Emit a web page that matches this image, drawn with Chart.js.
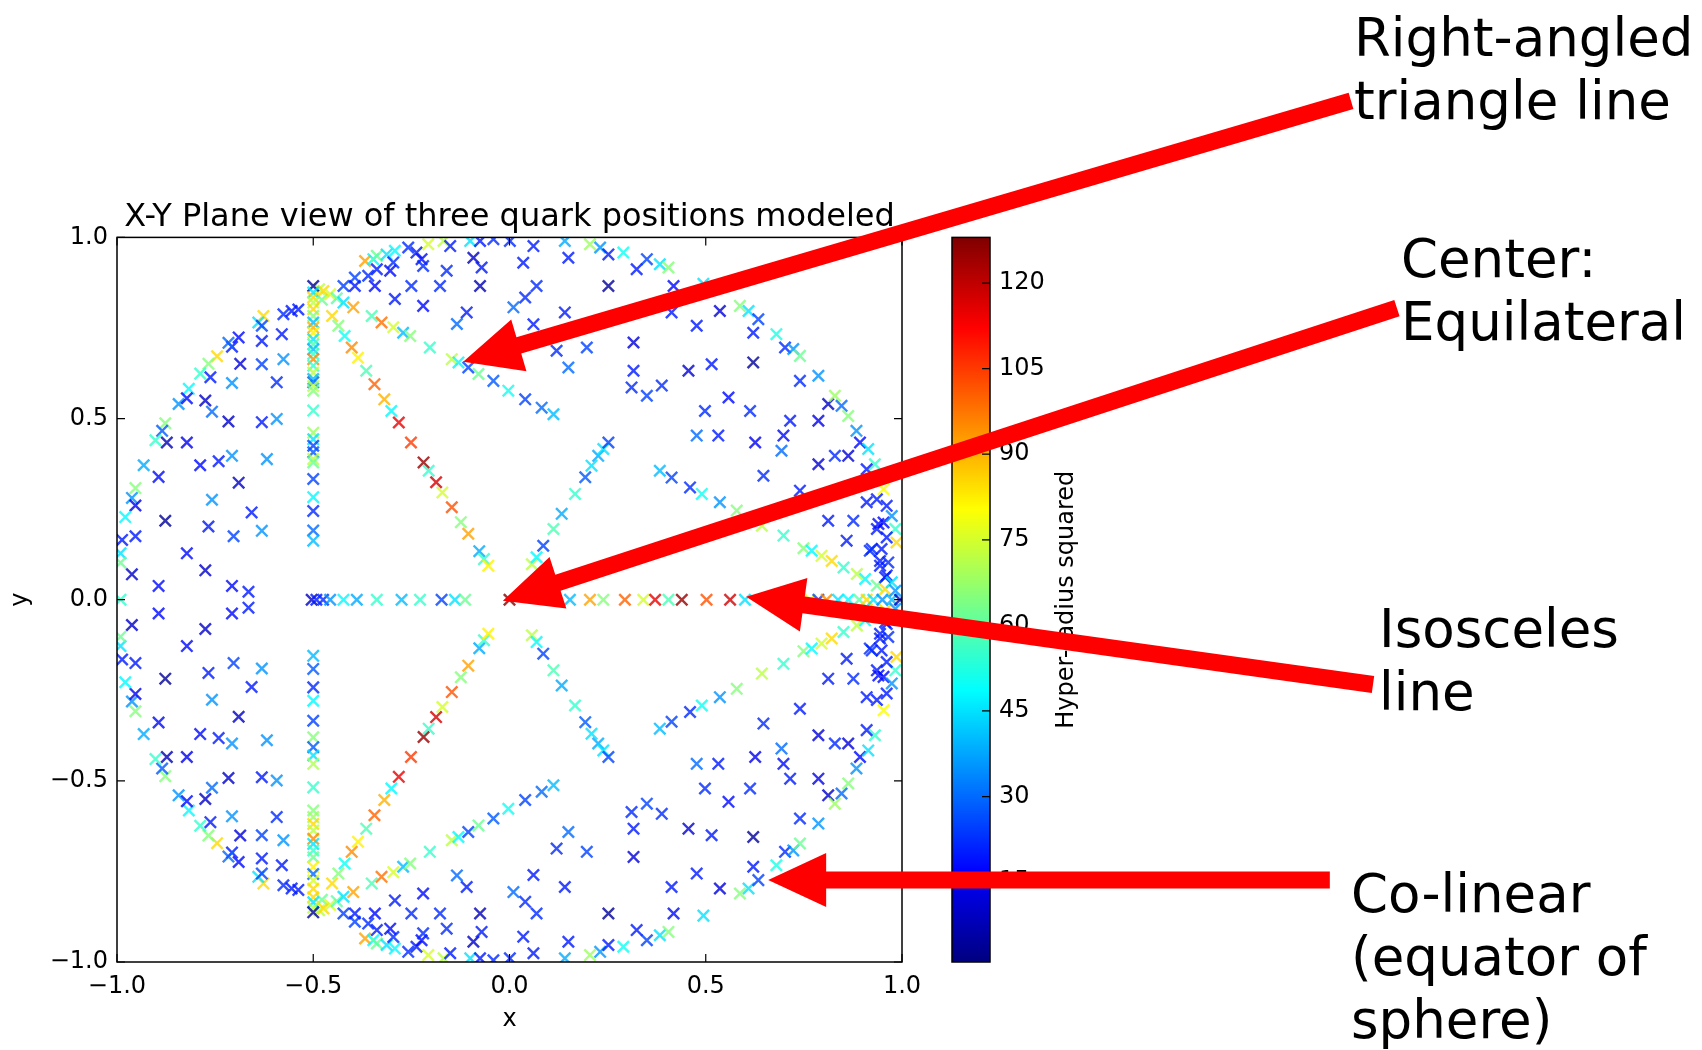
<!DOCTYPE html>
<html lang="en">
<head>
  <meta charset="UTF-8">
  <title>X-Y Plane view of three quark positions modeled</title>
  <script src="https://cdn.jsdelivr.net/npm/chart.js"></script>
  <style>
    html, body { margin: 0; padding: 0; background: #fff; }
    canvas { display: block; }
  </style>
</head>
<body>
  <canvas id="quarkChart" width="1702" height="1050"></canvas>

  <script>
    // every point is [x, y, hyper-radius squared]

    // scattered configurations, upper half (y > 0)
    const scatterUpper = [
      [-0.745,0.672,85],[-0.767,0.651,65],[-0.788,0.624,55],[-0.762,0.614,20],[-0.817,0.582,48],[-0.843,0.540,35],
      [-0.822,0.556,18],[-0.775,0.550,10],[-0.758,0.519,30],[-0.716,0.492,10],[-0.707,0.598,35],[-0.877,0.487,65],
      [-0.885,0.466,28],[-0.902,0.440,55],[-0.873,0.434,8],[-0.822,0.434,15],[-0.932,0.371,38],[-0.894,0.339,18],
      [-0.788,0.371,18],[-0.741,0.382,20],[-0.707,0.397,35],[-0.690,0.323,10],[-0.953,0.308,65],[-0.962,0.281,35],
      [-0.953,0.260,15],[-0.979,0.228,48],[-0.758,0.276,35],[-0.877,0.218,4],[-0.767,0.202,20],[-0.703,0.175,25],
      [-0.987,0.165,20],[-0.953,0.175,20],[-0.991,0.128,45],[-0.991,0.102,62],[-0.962,0.070,10],[-0.822,0.128,18],
      [-0.775,0.081,10],[-0.894,0.038,18],[-0.707,0.038,18],[-0.665,0.022,20],[-0.707,0.698,20],[-0.686,0.651,12],
      [-0.690,0.724,18],[-0.716,0.709,30],
      [-0.627,0.783,85],[-0.640,0.765,45],[-0.631,0.756,25],[-0.631,0.714,20],[-0.576,0.788,22],[-0.555,0.797,20],
      [-0.538,0.801,20],[-0.580,0.733,20],[-0.576,0.664,35],[-0.631,0.650,25],[-0.593,0.600,22],[-0.593,0.499,35],
      [-0.631,0.490,20],[-0.618,0.388,35],[-0.631,0.190,35],[-0.657,0.241,20],
      [-0.368,0.935,92],[-0.347,0.940,48],[-0.338,0.949,62],[-0.313,0.953,45],[-0.292,0.963,48],[-0.258,0.972,22],
      [-0.237,0.958,20],[-0.224,0.940,18],[-0.220,0.921,22],[-0.296,0.931,22],[-0.304,0.908,18],[-0.338,0.912,20],
      [-0.360,0.894,22],[-0.394,0.889,25],[-0.423,0.866,25],[-0.394,0.866,20],[-0.343,0.866,18],[-0.250,0.866,22],
      [-0.177,0.866,22],[-0.160,0.908,22],[-0.092,0.944,10],[-0.071,0.917,20],[-0.075,0.866,8],[-0.292,0.830,20],
      [-0.220,0.811,18],[-0.109,0.793,20],[-0.134,0.761,30],[-0.207,0.981,75],[-0.168,0.990,72],[-0.151,0.976,20],
      [-0.100,0.990,45],[-0.075,0.990,20],[-0.041,0.995,22],
      [0.001,0.990,22],[0.061,0.976,20],[0.141,0.990,38],[0.205,0.981,68],[0.231,0.972,35],[0.252,0.953,20],
      [0.290,0.958,50],[0.324,0.912,20],[0.350,0.940,25],[0.383,0.926,45],[0.405,0.917,65],[0.035,0.930,20],
      [0.150,0.944,20],[0.069,0.866,22],[0.252,0.866,4],[0.040,0.834,22],[0.010,0.807,30],[0.141,0.793,20],
      [0.061,0.760,20],[0.418,0.866,18],[0.413,0.793,20],[0.494,0.872,45],[0.536,0.797,12],[0.477,0.756,20],
      [0.587,0.811,65],[0.609,0.797,45],[0.634,0.774,25],[0.621,0.737,20],[0.680,0.733,52],[0.702,0.696,22],
      [0.723,0.692,35],[0.740,0.673,62],[0.120,0.687,22],[0.197,0.696,25],[0.316,0.710,12],[0.150,0.641,30],
      [0.316,0.632,20],[0.456,0.632,12],[0.515,0.650,20],[0.621,0.655,4],[0.311,0.586,22],[0.350,0.563,25],
      [0.388,0.591,22],[0.558,0.558,18],[0.498,0.521,22],[0.613,0.521,22],[0.740,0.604,22],[0.787,0.618,35],
      [0.477,0.453,30],[0.532,0.453,20],[0.626,0.434,15],[0.698,0.453,18],[0.715,0.494,20],[0.787,0.494,15],
      [0.693,0.411,30],[0.812,0.540,10],[0.829,0.563,68],[0.846,0.535,30],[0.863,0.507,65],[0.884,0.466,35],
      [0.893,0.434,18],[0.914,0.416,45],[0.829,0.397,22],[0.863,0.397,12],[0.787,0.374,12],[0.647,0.342,22],
      [0.931,0.374,55],[0.910,0.360,20],[0.740,0.301,20],[0.812,0.218,20],[0.876,0.218,22],[0.859,0.163,20],
      [0.923,0.140,22],[0.936,0.195,20],[0.953,0.213,18],[0.974,0.231,35],[0.944,0.094,20],[0.986,0.158,85],
      [0.961,0.067,20],[0.910,0.269,20],[0.936,0.277,20],[0.953,0.305,80],
      [0.961,0.259,20],[0.940,0.209,18],[0.983,0.195,55],[0.961,0.172,20],[0.918,0.135,22],[0.948,0.140,20],
      [0.944,0.107,20],[0.965,0.103,22],[0.957,0.062,20],[0.974,0.048,45],[0.983,0.025,35]
    ];

    // scattered configurations, lower half (y < 0)
    const scatterLower = [
      [-0.745,-0.672,85],[-0.767,-0.651,65],[-0.788,-0.624,55],[-0.762,-0.614,20],[-0.817,-0.582,48],[-0.843,-0.540,35],
      [-0.822,-0.556,18],[-0.775,-0.550,10],[-0.758,-0.519,30],[-0.716,-0.492,10],[-0.707,-0.598,35],[-0.877,-0.487,65],
      [-0.885,-0.466,28],[-0.902,-0.440,55],[-0.873,-0.434,8],[-0.822,-0.434,15],[-0.932,-0.371,38],[-0.894,-0.339,18],
      [-0.788,-0.371,18],[-0.741,-0.382,20],[-0.707,-0.397,35],[-0.690,-0.323,10],[-0.953,-0.308,65],[-0.962,-0.281,35],
      [-0.953,-0.260,15],[-0.979,-0.228,48],[-0.758,-0.276,35],[-0.877,-0.218,4],[-0.767,-0.202,20],[-0.703,-0.175,25],
      [-0.987,-0.165,20],[-0.953,-0.175,20],[-0.991,-0.128,45],[-0.991,-0.102,62],[-0.962,-0.070,10],[-0.822,-0.128,18],
      [-0.775,-0.081,10],[-0.894,-0.038,18],[-0.707,-0.038,18],[-0.665,-0.022,20],[-0.707,-0.698,20],[-0.686,-0.651,12],
      [-0.690,-0.724,18],[-0.716,-0.709,30],
      [-0.627,-0.783,85],[-0.640,-0.765,45],[-0.631,-0.756,25],[-0.631,-0.714,20],[-0.576,-0.788,22],[-0.555,-0.797,20],
      [-0.538,-0.801,20],[-0.580,-0.733,20],[-0.576,-0.664,35],[-0.631,-0.650,25],[-0.593,-0.600,22],[-0.593,-0.499,35],
      [-0.631,-0.490,20],[-0.618,-0.388,35],[-0.631,-0.190,35],[-0.657,-0.241,20],
      [-0.368,-0.935,92],[-0.347,-0.940,48],[-0.338,-0.949,62],[-0.313,-0.953,45],[-0.292,-0.963,48],[-0.258,-0.972,22],
      [-0.237,-0.958,20],[-0.224,-0.940,18],[-0.220,-0.921,22],[-0.296,-0.931,22],[-0.304,-0.908,18],[-0.338,-0.912,20],
      [-0.360,-0.894,22],[-0.394,-0.889,25],[-0.423,-0.866,25],[-0.394,-0.866,20],[-0.343,-0.866,18],[-0.250,-0.866,22],
      [-0.177,-0.866,22],[-0.160,-0.908,22],[-0.092,-0.944,10],[-0.071,-0.917,20],[-0.075,-0.866,8],[-0.292,-0.830,20],
      [-0.220,-0.811,18],[-0.109,-0.793,20],[-0.134,-0.761,30],[-0.207,-0.981,75],[-0.168,-0.990,72],[-0.151,-0.976,20],
      [-0.100,-0.990,45],[-0.075,-0.990,20],[-0.041,-0.995,22],
      [0.001,-0.990,22],[0.061,-0.976,20],[0.141,-0.990,38],[0.205,-0.981,68],[0.231,-0.972,35],[0.252,-0.953,20],
      [0.290,-0.958,50],[0.324,-0.912,20],[0.350,-0.940,25],[0.383,-0.926,45],[0.405,-0.917,65],[0.035,-0.930,20],
      [0.150,-0.944,20],[0.069,-0.866,22],[0.252,-0.866,4],[0.040,-0.834,22],[0.010,-0.807,30],[0.141,-0.793,20],
      [0.061,-0.760,20],[0.418,-0.866,18],[0.413,-0.793,20],[0.494,-0.872,45],[0.536,-0.797,12],[0.477,-0.756,20],
      [0.587,-0.811,65],[0.609,-0.797,45],[0.634,-0.774,25],[0.621,-0.737,20],[0.680,-0.733,52],[0.702,-0.696,22],
      [0.723,-0.692,35],[0.740,-0.673,62],[0.120,-0.687,22],[0.197,-0.696,25],[0.316,-0.710,12],[0.150,-0.641,30],
      [0.316,-0.632,20],[0.456,-0.632,12],[0.515,-0.650,20],[0.621,-0.655,4],[0.311,-0.586,22],[0.350,-0.563,25],
      [0.388,-0.591,22],[0.558,-0.558,18],[0.498,-0.521,22],[0.613,-0.521,22],[0.740,-0.604,22],[0.787,-0.618,35],
      [0.477,-0.453,30],[0.532,-0.453,20],[0.626,-0.434,15],[0.698,-0.453,18],[0.715,-0.494,20],[0.787,-0.494,15],
      [0.693,-0.411,30],[0.812,-0.540,10],[0.829,-0.563,68],[0.846,-0.535,30],[0.863,-0.507,65],[0.884,-0.466,35],
      [0.893,-0.434,18],[0.914,-0.416,45],[0.829,-0.397,22],[0.863,-0.397,12],[0.787,-0.374,12],[0.647,-0.342,22],
      [0.931,-0.374,55],[0.910,-0.360,20],[0.740,-0.301,20],[0.812,-0.218,20],[0.876,-0.218,22],[0.859,-0.163,20],
      [0.923,-0.140,22],[0.936,-0.195,20],[0.953,-0.213,18],[0.974,-0.231,35],[0.944,-0.094,20],[0.986,-0.158,85],
      [0.961,-0.067,20],[0.910,-0.269,20],[0.936,-0.277,20],[0.953,-0.305,80],
      [0.961,-0.259,20],[0.940,-0.209,18],[0.983,-0.195,55],[0.961,-0.172,20],[0.918,-0.135,22],[0.948,-0.140,20],
      [0.944,-0.107,20],[0.965,-0.103,22],[0.957,-0.062,20],[0.974,-0.048,45],[0.983,-0.025,35]
    ];

    // the x = -0.5 line through both vertices
    const vertLineUpper = [
      [-0.5,0.866,4],[-0.5,0.848,45],[-0.5,0.834,85],[-0.5,0.820,72],[-0.5,0.802,85],[-0.5,0.783,65],
      [-0.5,0.765,40],[-0.5,0.751,90],[-0.5,0.737,82],[-0.5,0.719,45],[-0.5,0.705,58],[-0.5,0.691,40],
      [-0.5,0.678,55],[-0.5,0.664,95],[-0.5,0.646,55],[-0.5,0.627,72],[-0.5,0.609,40],[-0.5,0.600,30],
      [-0.5,0.590,72],[-0.5,0.577,65],[-0.5,0.522,55],[-0.5,0.461,68],[-0.5,0.443,45],[-0.5,0.425,25],
      [-0.5,0.407,28],[-0.5,0.388,72],[-0.5,0.379,62],[-0.5,0.333,25],[-0.5,0.283,48],[-0.5,0.245,22],
      [-0.5,0.191,30],[-0.5,0.163,40]
    ];
    const vertLineLower = [
      [-0.5,-0.155,40],[-0.5,-0.191,28],[-0.5,-0.242,22],[-0.5,-0.279,48],[-0.5,-0.334,25],[-0.5,-0.380,65],
      [-0.5,-0.407,28],[-0.5,-0.430,45],[-0.5,-0.453,70],[-0.5,-0.518,55],[-0.5,-0.582,65],[-0.5,-0.600,68],
      [-0.5,-0.619,85],[-0.5,-0.637,72],[-0.5,-0.660,95],[-0.5,-0.674,45],[-0.5,-0.692,55],[-0.5,-0.711,62],
      [-0.5,-0.738,82],[-0.5,-0.757,30],[-0.5,-0.775,75],[-0.5,-0.798,85],[-0.5,-0.821,85],[-0.5,-0.835,45],
      [-0.5,-0.850,72],[-0.5,-0.863,4]
    ];

    // right-angled triangle lines leaving the vertices
    const rightAngleUpper = [
      [-0.485,0.857,72],[-0.474,0.852,85],[-0.457,0.843,75],[-0.440,0.832,60],[-0.423,0.820,45],[-0.398,0.807,92],
      [-0.351,0.783,58],[-0.326,0.765,98],[-0.296,0.752,75],[-0.271,0.737,40],[-0.253,0.728,65],[-0.203,0.696,55],
      [-0.147,0.664,72],[-0.130,0.655,48],[-0.105,0.641,25],[-0.079,0.623,62],[-0.041,0.604,28],[-0.003,0.577,50],
      [0.040,0.553,25],[0.082,0.530,30],[0.112,0.512,40]
    ];
    const rightAngleLower = [
      [-0.485,-0.857,72],[-0.474,-0.852,85],[-0.457,-0.843,75],[-0.440,-0.832,60],[-0.423,-0.820,45],[-0.398,-0.807,92],
      [-0.351,-0.783,58],[-0.326,-0.765,98],[-0.296,-0.752,75],[-0.271,-0.737,40],[-0.253,-0.728,65],[-0.203,-0.696,55],
      [-0.147,-0.664,72],[-0.130,-0.655,48],[-0.105,-0.641,25],[-0.079,-0.623,62],[-0.041,-0.604,28],[-0.003,-0.577,50],
      [0.040,-0.553,25],[0.082,-0.530,30],[0.112,-0.512,40]
    ];

    // vertex-to-centre lines (high hyper-radius)
    const centreDiagUpper = [
      [-0.478,0.828,62],[-0.452,0.783,85],[-0.436,0.756,65],[-0.420,0.728,50],[-0.402,0.696,95],[-0.386,0.668,82],
      [-0.365,0.632,58],[-0.344,0.595,100],[-0.319,0.553,90],[-0.301,0.521,48],[-0.282,0.489,115],[-0.251,0.434,105],
      [-0.219,0.379,125],[-0.206,0.356,55],[-0.187,0.324,118],[-0.171,0.296,75],[-0.147,0.255,102],[-0.124,0.214,65],
      [-0.105,0.182,92],[-0.077,0.134,38],[-0.065,0.112,55],[-0.054,0.094,82]
    ];
    const centreDiagLower = [
      [-0.478,-0.828,62],[-0.452,-0.783,85],[-0.436,-0.756,65],[-0.420,-0.728,50],[-0.402,-0.696,95],[-0.386,-0.668,82],
      [-0.365,-0.632,58],[-0.344,-0.595,100],[-0.319,-0.553,90],[-0.301,-0.521,48],[-0.282,-0.489,115],[-0.251,-0.434,105],
      [-0.219,-0.379,125],[-0.206,-0.356,55],[-0.187,-0.324,118],[-0.171,-0.296,75],[-0.147,-0.255,102],[-0.124,-0.214,65],
      [-0.105,-0.182,92],[-0.077,-0.134,38],[-0.065,-0.112,55],[-0.054,-0.094,82]
    ];

    // short 60 degree lines out of the centre
    const sixtyUpper = [
      [0.057,0.098,72],[0.069,0.117,48],[0.086,0.149,25],[0.112,0.195,58],[0.133,0.237,38],[0.167,0.292,55],
      [0.193,0.338,28],[0.209,0.370,45],[0.226,0.397,38],[0.239,0.416,45],[0.252,0.434,25]
    ];
    const sixtyLower = [
      [0.057,-0.098,72],[0.069,-0.117,48],[0.086,-0.149,25],[0.112,-0.195,58],[0.133,-0.237,38],[0.167,-0.292,55],
      [0.193,-0.338,28],[0.209,-0.370,45],[0.226,-0.397,38],[0.239,-0.416,45],[0.252,-0.434,25]
    ];

    // lines running into (1, 0)
    const edgeUpper = [
      [0.383,0.356,40],[0.413,0.337,25],[0.460,0.310,22],[0.490,0.292,50],[0.536,0.269,35],[0.579,0.246,65],
      [0.643,0.204,72],[0.698,0.177,55],[0.749,0.142,65],[0.770,0.135,48],[0.795,0.121,75],[0.821,0.107,85],
      [0.851,0.089,55],[0.885,0.071,72],[0.906,0.057,48],[0.936,0.039,62],[0.957,0.029,85]
    ];
    const edgeLower = [
      [0.383,-0.356,40],[0.413,-0.337,25],[0.460,-0.310,22],[0.490,-0.292,50],[0.536,-0.269,35],[0.579,-0.246,65],
      [0.643,-0.204,72],[0.698,-0.177,55],[0.749,-0.142,65],[0.770,-0.135,48],[0.795,-0.121,75],[0.821,-0.107,85],
      [0.851,-0.089,55],[0.885,-0.071,72],[0.906,-0.057,48],[0.936,-0.039,62],[0.957,-0.029,85]
    ];

    // isosceles line along y = 0, with the equilateral point at the centre
    const isoscelesLine = [
      [-0.991,0,55],[-0.504,0,10],[-0.492,0,20],[-0.475,0,22],[-0.457,0,35],[-0.423,0,48],[-0.389,0,38],
      [-0.338,0,55],[-0.275,0,40],[-0.228,0,55],[-0.173,0,25],[-0.139,0,45],[-0.113,0,62],[0.154,0,40],
      [0.205,0,92],[0.239,0,65],[0.294,0,100],[0.341,0,75],[0.371,0,115],[0.405,0,58],[0.439,0,125],
      [0.502,0,102],[0.562,0,118],[0.600,0,45],[0.766,0,78],[0.787,0,25],[0.808,0,95],[0.837,0,45],
      [0.863,0,48],[0.891,0,60],[0.910,0,85],[0.927,0,45],[0.950,0,35],[0.974,0,40],[0.995,0,8],
      [0.0,0,127]
    ];

    const axisTicks = [-1, -0.5, 0, 0.5, 1];
    const cbMin = 1, cbMax = 128;
    const cbTicks = [15, 30, 45, 60, 75, 90, 105, 120];

    // callouts: text lines (pixel placed) and arrows given in data units
    const notes = [
      { lines: ['Right-angled', 'triangle line'], left: 1354, baseline: 56 },
      { lines: ['Center:', 'Equilateral'], left: 1401, baseline: 277 },
      { lines: ['Isosceles', 'line'], left: 1379, baseline: 647 },
      { lines: ['Co-linear', '(equator of', 'sphere)'], left: 1351, baseline: 912 }
    ];
    const arrows = [
      { from: [2.144, 1.377], to: [-0.118, 0.657] },
      { from: [2.261, 0.805], to: [-0.017, -0.003] },
      { from: [2.200, -0.234], to: [0.603, 0.008] },
      { from: [2.090, -0.774], to: [0.659, -0.774] }
    ];

    const FONT = "'DejaVu Sans', sans-serif";
    Chart.defaults.font.family = FONT;
    Chart.defaults.color = '#000';

    // matplotlib "jet"
    function jet(v, a) {
      const t = Math.min(1, Math.max(0, (v - cbMin) / (cbMax - cbMin)));
      const c = k => Math.round(255 * Math.min(1, Math.max(0, 1.5 - Math.abs(4 * t - k))));
      return `rgba(${c(3)},${c(2)},${c(1)},${a})`;
    }

    const minus = v => (v < 0 ? '\u2212' : '') + Math.abs(v).toFixed(1);

    function drawArrow(ctx, x0, y0, x1, y1) {
      const shaft = 17, headLen = 58, headHalf = 27;
      const len = Math.hypot(x1 - x0, y1 - y0);
      const ux = (x1 - x0) / len, uy = (y1 - y0) / len;
      const nx = -uy, ny = ux;
      const bx = x1 - ux * headLen, by = y1 - uy * headLen;
      ctx.beginPath();
      ctx.moveTo(x0 + nx * shaft / 2, y0 + ny * shaft / 2);
      ctx.lineTo(bx + nx * shaft / 2, by + ny * shaft / 2);
      ctx.lineTo(bx + nx * headHalf, by + ny * headHalf);
      ctx.lineTo(x1, y1);
      ctx.lineTo(bx - nx * headHalf, by - ny * headHalf);
      ctx.lineTo(bx - nx * shaft / 2, by - ny * shaft / 2);
      ctx.lineTo(x0 - nx * shaft / 2, y0 - ny * shaft / 2);
      ctx.closePath();
      ctx.fill();
    }

    const decor = {
      id: 'decor',
      afterDraw(chart) {
        const { ctx, chartArea: a, scales } = chart;
        const xs = scales.x, ys = scales.y, cb = scales.cb;
        ctx.save();

        // axes frame with inward ticks on all sides
        ctx.strokeStyle = '#000';
        ctx.lineWidth = 1.5;
        ctx.strokeRect(a.left, a.top, a.right - a.left, a.bottom - a.top);
        ctx.lineWidth = 1.2;
        ctx.beginPath();
        axisTicks.forEach(t => {
          const px = xs.getPixelForValue(t), py = ys.getPixelForValue(t);
          ctx.moveTo(px, a.bottom); ctx.lineTo(px, a.bottom - 8);
          ctx.moveTo(px, a.top); ctx.lineTo(px, a.top + 8);
          ctx.moveTo(a.left, py); ctx.lineTo(a.left + 8, py);
          ctx.moveTo(a.right, py); ctx.lineTo(a.right - 8, py);
        });
        ctx.stroke();

        // colour bar
        const barL = a.right + 50, barW = 38;
        const top = cb.getPixelForValue(cbMax), bot = cb.getPixelForValue(cbMin);
        for (let py = Math.floor(top); py < bot; py++) {
          ctx.fillStyle = jet(cb.getValueForPixel(py + 0.5), 1);
          ctx.fillRect(barL, py, barW, 1);
        }
        ctx.lineWidth = 1.5;
        ctx.strokeRect(barL, top, barW, bot - top);
        ctx.lineWidth = 1.2;
        ctx.beginPath();
        cbTicks.forEach(v => {
          const py = cb.getPixelForValue(v);
          ctx.moveTo(barL + barW, py); ctx.lineTo(barL + barW - 8, py);
        });
        ctx.stroke();
        ctx.fillStyle = '#000';
        ctx.font = `24px ${FONT}`;
        ctx.textAlign = 'left';
        ctx.textBaseline = 'middle';
        cbTicks.forEach(v => ctx.fillText(String(v), barL + barW + 9, cb.getPixelForValue(v)));
        ctx.save();
        ctx.translate(1067, (top + bot) / 2);
        ctx.rotate(-Math.PI / 2);
        ctx.textAlign = 'center';
        ctx.fillText('Hyper-radius squared', 0, 0);
        ctx.restore();

        // callout text
        ctx.font = `53px ${FONT}`;
        ctx.textBaseline = 'alphabetic';
        notes.forEach(n => n.lines.forEach((s, i) => ctx.fillText(s, n.left, n.baseline + i * 63)));

        // callout arrows
        ctx.fillStyle = '#ff0000';
        arrows.forEach(ar => drawArrow(ctx,
          xs.getPixelForValue(ar.from[0]), ys.getPixelForValue(ar.from[1]),
          xs.getPixelForValue(ar.to[0]), ys.getPixelForValue(ar.to[1])));

        ctx.restore();
      }
    };

    const groups = [
      scatterUpper, scatterLower, vertLineUpper, vertLineLower,
      rightAngleUpper, rightAngleLower, centreDiagUpper, centreDiagLower,
      sixtyUpper, sixtyLower, edgeUpper, edgeLower, isoscelesLine
    ];

    new Chart(document.getElementById('quarkChart'), {
      type: 'scatter',
      data: {
        datasets: groups.map(g => ({
          data: g.map(([x, y, v]) => ({ x, y, v })),
          pointStyle: 'crossRot',
          pointRadius: 8,
          pointHoverRadius: 8,
          pointBorderWidth: 2.4,
          pointBackgroundColor: 'rgba(0,0,0,0)',
          pointBorderColor: c => jet(c.raw.v, 0.8)
        }))
      },
      options: {
        responsive: false,
        animation: false,
        events: [],
        layout: { padding: { left: 0, right: 800, top: 0, bottom: 0 } },
        plugins: {
          legend: { display: false },
          tooltip: { enabled: false },
          title: {
            display: true,
            fullSize: false,
            text: 'X-Y Plane view of three quark positions modeled',
            color: '#000',
            font: { size: 32, weight: 'normal' },
            padding: { top: 198, bottom: 1 }
          }
        },
        scales: {
          x: {
            type: 'linear', min: -1, max: 1,
            grid: { display: false, drawTicks: false },
            border: { display: false },
            ticks: { stepSize: 0.5, padding: 10, font: { size: 24 }, color: '#000', callback: minus },
            title: { display: true, text: 'x', font: { size: 24 }, color: '#000', padding: { top: 0, bottom: 16 } },
            afterFit: s => { s.height = 88; }
          },
          y: {
            type: 'linear', min: -1, max: 1,
            grid: { display: false, drawTicks: false },
            border: { display: false },
            ticks: { stepSize: 0.5, padding: 9, font: { size: 24 }, color: '#000', callback: minus },
            title: { display: true, text: 'y', font: { size: 24 }, color: '#000', padding: { top: 6, bottom: 0 } },
            afterFit: s => { s.width = 117; }
          },
          cb: { type: 'linear', axis: 'y', position: 'right', display: false, min: cbMin, max: cbMax }
        }
      },
      plugins: [decor]
    });
  </script>
</body>
</html>
